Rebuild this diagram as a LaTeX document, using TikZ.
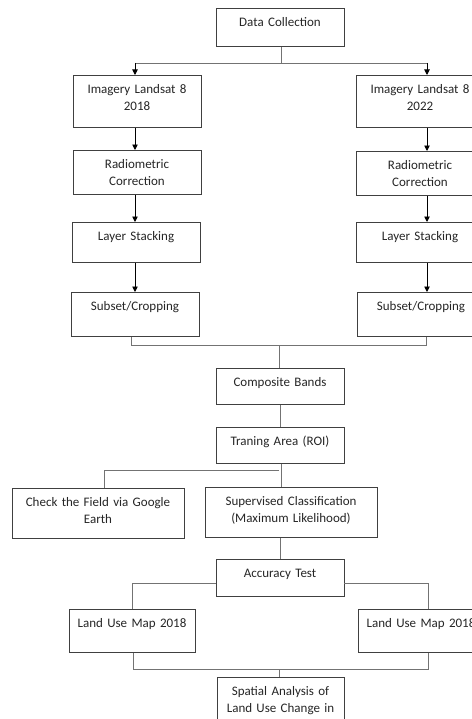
\documentclass[tikz,border=0pt]{standalone}
\usepackage{fontspec}
\setmainfont{Carlito}
\usetikzlibrary{arrows.meta}
\begin{document}
\begin{tikzpicture}[x=1bp,y=-1bp,
 box/.style={draw=black!75, line width=0.8bp, inner sep=0pt, align=center, text height=18.5bp,
   font=\fontsize{13bp}{17bp}\selectfont, text=black!85, anchor=north},
 arr/.style={draw=black, line width=0.9bp, -{Triangle[length=5.5bp,width=5.5bp]}},
 ln/.style={draw=black!55, line width=0.8bp}]
\useasboundingbox (0,0) rectangle (472,719);
\clip (0,0) rectangle (472,719);
\fill[white] (0,0) rectangle (472,719);

% boxes
\node[box, text width=128bp, text depth=19.5bp] (dc) at (280,8) {Data Collection};
\node[box, text width=128bp, text depth=33.5bp] (img1) at (137,75) {Imagery Landsat 8\\2018};
\node[box, text width=128bp, text depth=33.5bp] (img2) at (420,75) {Imagery Landsat 8\\2022};
\node[box, text width=128bp, text depth=25.5bp] (rad1) at (137,150) {Radiometric\\Correction};
\node[box, text width=128bp, text depth=25.5bp] (rad2) at (420,151) {Radiometric\\Correction};
\node[box, text width=128bp, text depth=21.5bp] (lay1) at (136,222) {Layer Stacking};
\node[box, text width=128bp, text depth=21.5bp] (lay2) at (420,222) {Layer Stacking};
\node[box, text width=128bp, text depth=25.5bp] (sub1) at (135,292) {Subset/Cropping};
\node[box, text width=128bp, text depth=25.5bp] (sub2) at (421,292) {Subset/Cropping};
\node[box, text width=128bp, text depth=17.5bp] (comp) at (280,368) {Composite Bands};
\node[box, text width=128bp, text depth=17.5bp] (train) at (280,427) {Traning Area (ROI)};
\node[box, text width=172bp, text depth=31.5bp] (check) at (98,488) {Check the Field via Google\\Earth};
\node[box, text width=172bp, text depth=31.5bp] (sup) at (291,487) {Supervised Classification\\(Maximum Likelihood)};
\node[box, text width=128bp, text depth=18.5bp] (acc) at (280,559) {Accuracy Test};
\node[box, text width=126bp, text depth=24.5bp] (lu1) at (132,609) {Land Use Map 2018};
\node[box, text width=126bp, text depth=24.5bp] (lu2) at (421,609) {Land Use Map 2018};
\node[box, text width=127bp, text depth=51.5bp] (spa) at (280.5,677) {Spatial Analysis of\\Land Use Change in};

% helper coordinates
\coordinate (lx) at (135,0);
\coordinate (rx) at (427,0);
\coordinate (j1) at (281,63);
\coordinate (lx2) at (131,0);
\coordinate (rx2) at (426,0);
\coordinate (j2) at (279,345);
\coordinate (cx2) at (281,0);
\coordinate (j3) at (279,470);
\coordinate (ckx) at (104,0);
\coordinate (ay) at (0,583);
\coordinate (rx3) at (428,0);
\coordinate (bl) at (133,0);
\coordinate (j4) at (279,669);

% top split
\draw[ln] (dc.south -| j1) -- (j1);
\draw[ln] (j1 -| lx) -- (j1 -| rx);
\draw[arr] (j1 -| lx) -- (img1.north -| lx);
\draw[arr] (j1 -| rx) -- (img2.north -| rx);

% columns
\draw[arr] (img1.south -| lx) -- (rad1.north -| lx);
\draw[arr] (rad1.south -| lx) -- (lay1.north -| lx);
\draw[arr] (lay1.south -| lx) -- (sub1.north -| lx);
\draw[arr] (img2.south -| rx) -- (rad2.north -| rx);
\draw[arr] (rad2.south -| rx) -- (lay2.north -| rx);
\draw[arr] (lay2.south -| rx) -- (sub2.north -| rx);

% merge
\draw[ln] (sub1.south -| lx2) -- (j2 -| lx2) -- (j2 -| rx2) -- (sub2.south -| rx2);
\draw[ln] (j2) -- (comp.north -| j2);
\draw[ln] (comp.south) -- (train.north);

% training split
\draw[ln] (train.south -| cx2) -- (sup.north -| cx2);
\draw[ln] (j3) -- (j3 -| ckx) -- (check.north -| ckx);

\draw[ln] (acc.north |- sup.south) -- (acc.north);

% accuracy split
\draw[ln] (acc.west |- ay) -- (lu1.north |- ay) -- (lu1.north);
\draw[ln] (acc.east |- ay) -- (rx3 |- ay) -- (lu2.north -| rx3);

% final merge
\draw[ln] (lu1.south -| bl) -- (j4 -| bl) -- (j4 -| rx3) -- (lu2.south -| rx3);
\draw[ln] (j4) -- (spa.north -| j4);
\end{tikzpicture}
\end{document}
